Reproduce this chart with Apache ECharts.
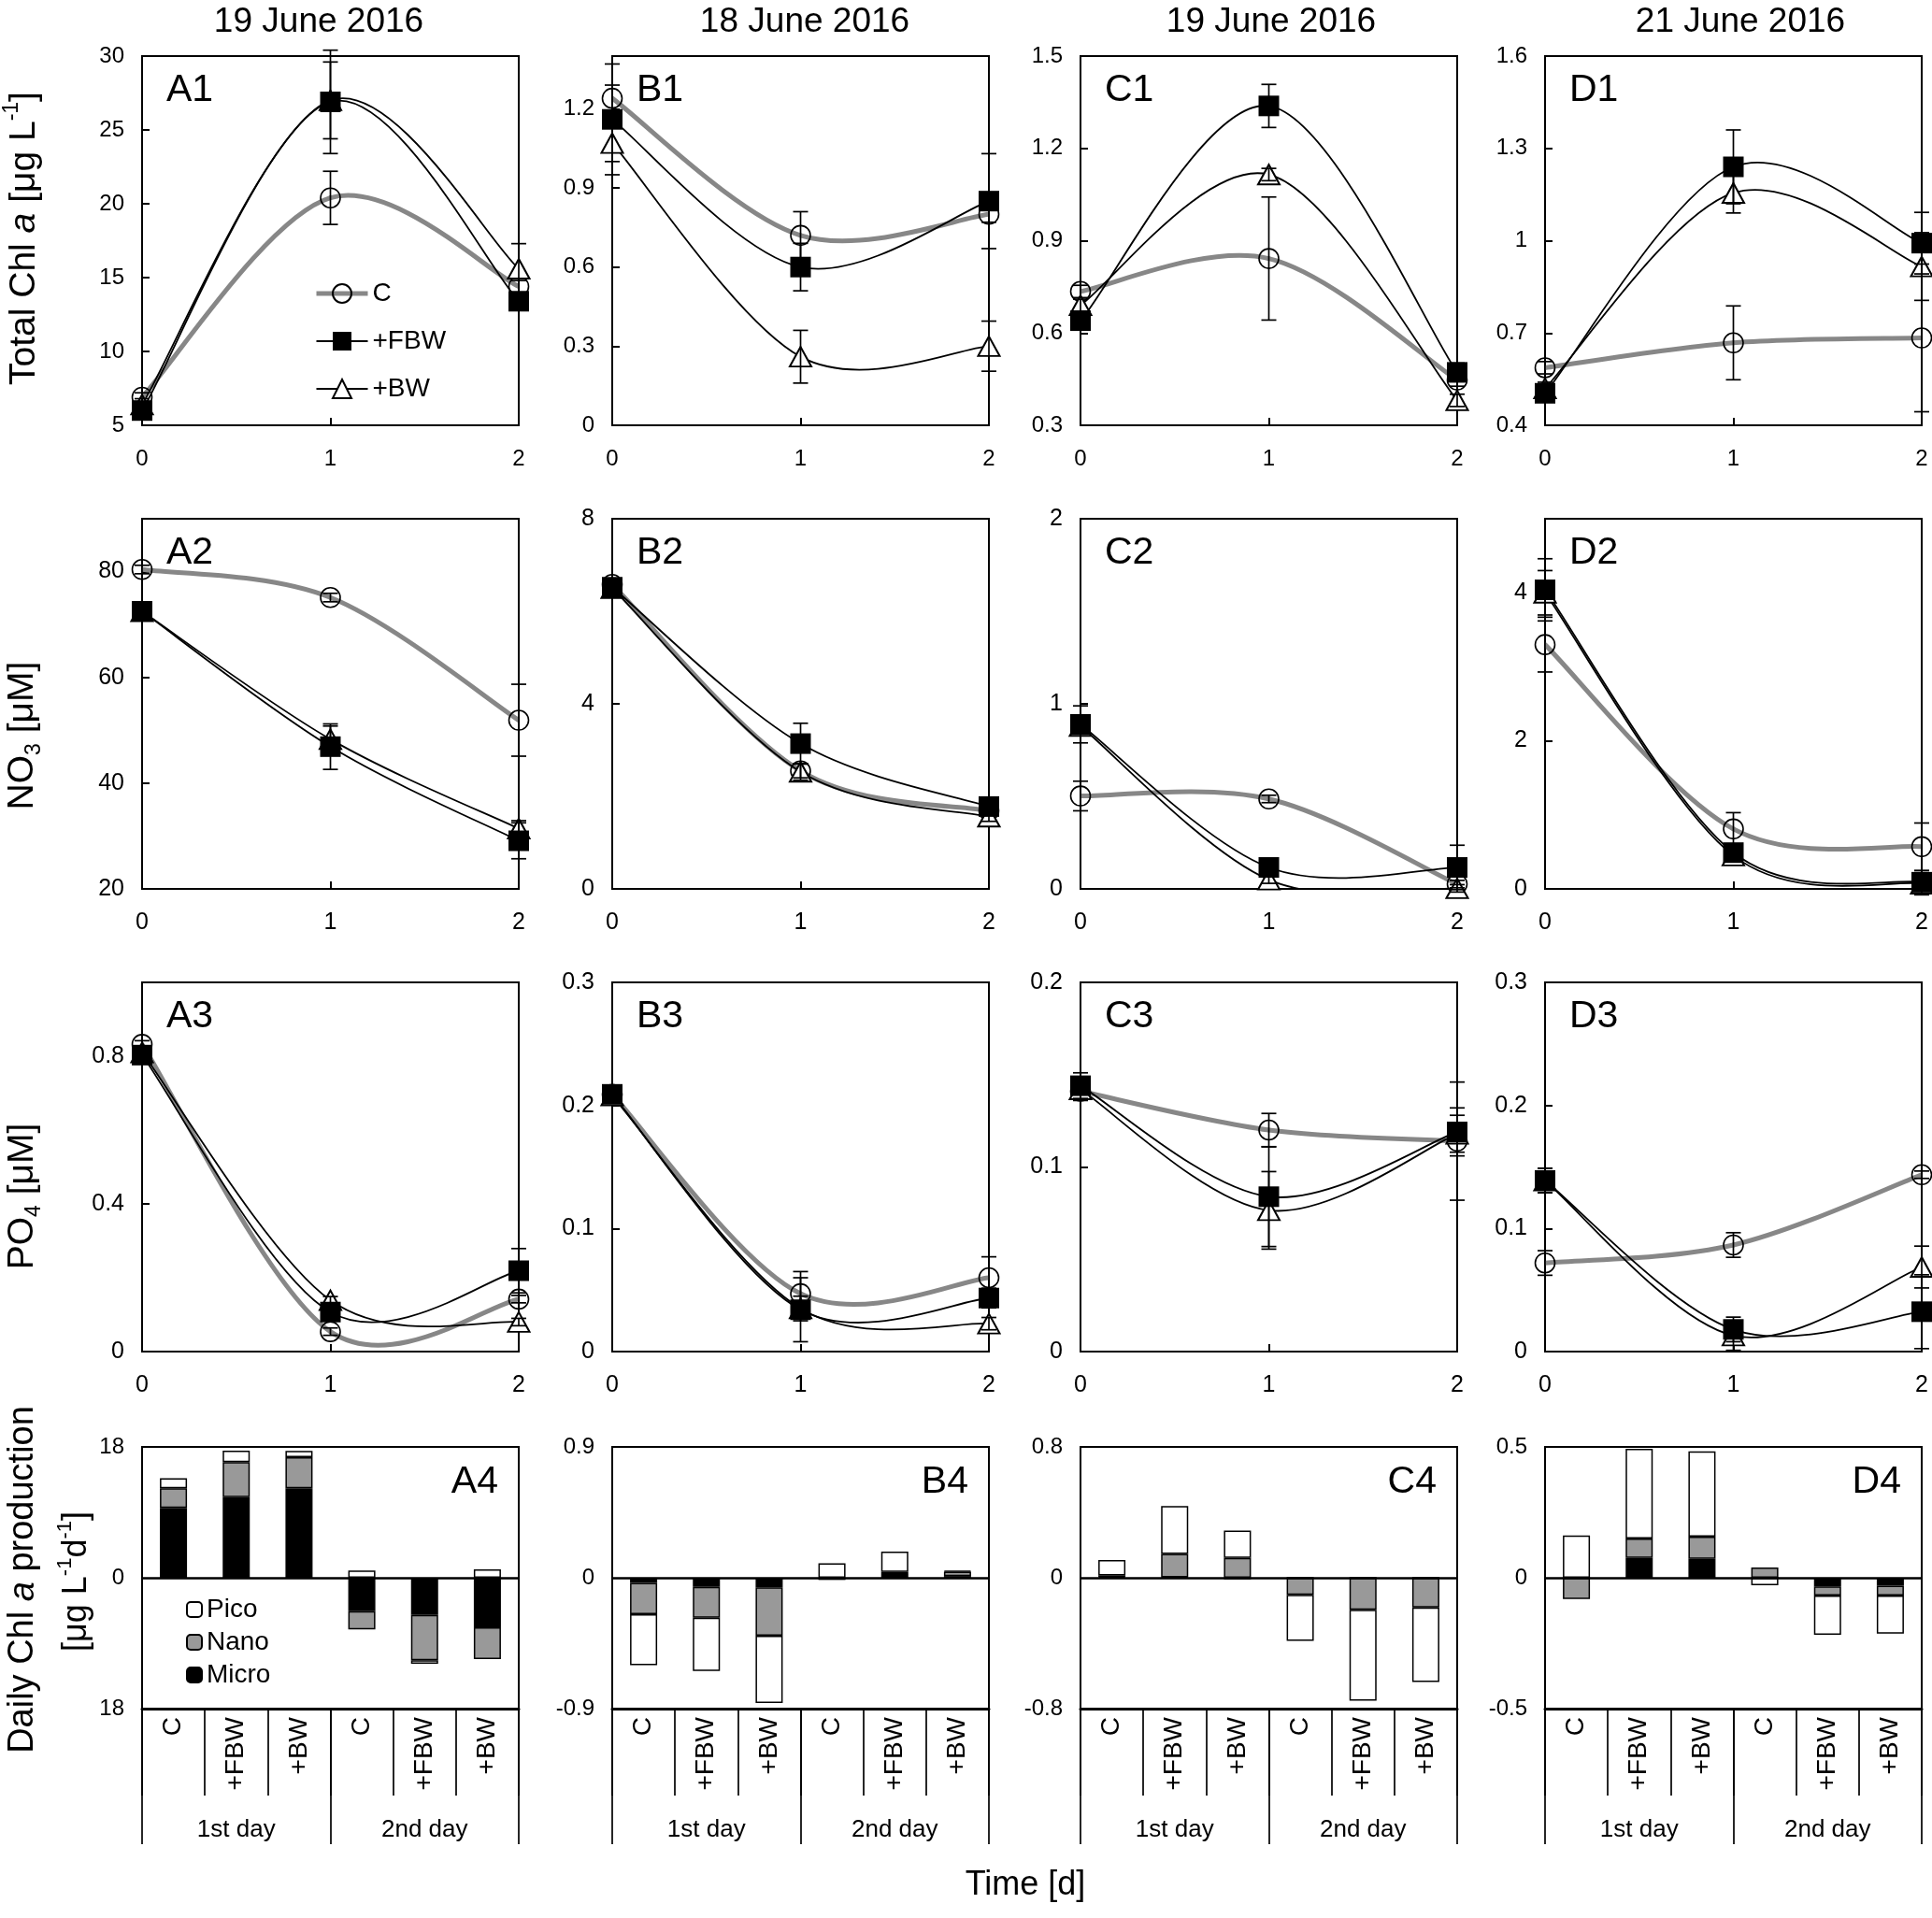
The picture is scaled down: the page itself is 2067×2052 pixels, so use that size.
<!DOCTYPE html>
<html><head><meta charset="utf-8">
<script src="https://cdn.jsdelivr.net/npm/echarts@6/dist/echarts.min.js"></script>
<style>html,body{margin:0;padding:0;background:#fff}#c{width:2067px;height:2052px}</style>
</head><body><div id="c"></div>
<script>
// ---------------- DATA ----------------
const days = [0, 1, 2];
const dates = ['19 June 2016', '18 June 2016', '19 June 2016', '21 June 2016'];
const treatments = ['C', '+FBW', '+BW'];
const barCategories = ['C', '+FBW', '+BW', 'C', '+FBW', '+BW'];
const dayGroups = ['1st day', '2nd day'];
const sizeClasses = ['Pico', 'Nano', 'Micro'];

// Row 1: Total Chl a [ug/L]
const A1_ticks = [5, 10, 15, 20, 25, 30];
const A1_C = [6.9, 20.4, 14.4],   A1_C_err = [0.3, 1.8, 0.4];
const A1_FBW = [6.0, 26.9, 13.4], A1_FBW_err = [0.4, 3.5, 0.5];
const A1_BW = [6.4, 27.0, 15.6],  A1_BW_err = [0.4, 2.6, 1.7];
const B1_ticks = [0, 0.3, 0.6, 0.9, 1.2];
const B1_C = [1.24, 0.72, 0.80],  B1_C_err = [0.05, 0.09, 0.03];
const B1_FBW = [1.16, 0.60, 0.85], B1_FBW_err = [0.21, 0.09, 0.18];
const B1_BW = [1.07, 0.26, 0.30], B1_BW_err = [0.07, 0.10, 0.095];
const C1_ticks = [0.3, 0.6, 0.9, 1.2, 1.5];
const C1_C = [0.735, 0.842, 0.447], C1_C_err = [0.02, 0.2, 0.02];
const C1_FBW = [0.64, 1.338, 0.472], C1_FBW_err = [0.03, 0.07, 0.03];
const C1_BW = [0.69, 1.115, 0.381], C1_BW_err = [0.02, 0.02, 0.02];
const D1_ticks = [0.4, 0.7, 1, 1.3, 1.6];
const D1_C = [0.587, 0.668, 0.684], D1_C_err = [0.02, 0.12, 0.24];
const D1_FBW = [0.504, 1.24, 0.992], D1_FBW_err = [0.02, 0.12, 0.1];
const D1_BW = [0.52, 1.155, 0.916], D1_BW_err = [0.02, 0.065, 0.11];

// Row 2: NO3 [uM]
const A2_ticks = [20, 40, 60, 80];
const A2_C = [80.4, 75.1, 51.9],  A2_C_err = [0.8, 0.8, 6.8];
const A2_FBW = [72.5, 46.9, 29.1], A2_FBW_err = [0.5, 4.3, 3.4];
const A2_BW = [72.5, 48.3, 31.4], A2_BW_err = [0.5, 2.5, 1.5];
const B2_ticks = [0, 4, 8];
const B2_C = [6.58, 2.55, 1.69],  B2_C_err = [0.1, 0.15, 0.1];
const B2_FBW = [6.52, 3.14, 1.78], B2_FBW_err = [0.1, 0.44, 0.15];
const B2_BW = [6.50, 2.53, 1.56], B2_BW_err = [0.1, 0.18, 0.1];
const C2_ticks = [0, 1, 2];
const C2_C = [0.502, 0.486, 0.026], C2_C_err = [0.08, 0.02, 0.02];
const C2_FBW = [0.889, 0.116, 0.116], C2_FBW_err = [0.1, 0.02, 0.12];
const C2_BW = [0.88, 0.05, 0.003], C2_BW_err = [0.03, 0.02, 0.02];
const D2_ticks = [0, 2, 4];
const D2_C = [3.30, 0.81, 0.57],  D2_C_err = [0.37, 0.22, 0.32];
const D2_FBW = [4.04, 0.49, 0.09], D2_FBW_err = [0.42, 0.05, 0.05];
const D2_BW = [4.0, 0.45, 0.07],  D2_BW_err = [0.3, 0.05, 0.15];

// Row 3: PO4 [uM]
const A3_ticks = [0, 0.4, 0.8];
const A3_C = [0.832, 0.054, 0.142], A3_C_err = [0.01, 0.01, 0.01];
const A3_FBW = [0.803, 0.107, 0.219], A3_FBW_err = [0.01, 0.01, 0.06];
const A3_BW = [0.81, 0.139, 0.080], A3_BW_err = [0.01, 0.01, 0.01];
const B3_ticks = [0, 0.1, 0.2, 0.3];
const B3_C = [0.209, 0.047, 0.060], B3_C_err = [0.003, 0.018, 0.017];
const B3_FBW = [0.209, 0.034, 0.0435], B3_FBW_err = [0.003, 0.026, 0.008];
const B3_BW = [0.208, 0.035, 0.0227], B3_BW_err = [0.003, 0.01, 0.005];
const C3_ticks = [0, 0.1, 0.2];
const C3_C = [0.141, 0.120, 0.114], C3_C_err = [0.005, 0.009, 0.032];
const C3_FBW = [0.144, 0.0839, 0.119], C3_FBW_err = [0.007, 0.027, 0.013];
const C3_BW = [0.142, 0.0765, 0.118], C3_BW_err = [0.005, 0.021, 0.01];
const D3_ticks = [0, 0.1, 0.2, 0.3];
const D3_C = [0.072, 0.0866, 0.1437], D3_C_err = [0.01, 0.01, 0.003];
const D3_FBW = [0.139, 0.018, 0.0324], D3_FBW_err = [0.01, 0.01, 0.03];
const D3_BW = [0.139, 0.013, 0.0687], D3_BW_err = [0.01, 0.012, 0.017];

// Row 4: Daily Chl a production by size class
const A4_labels = [-18, 0, 18], A4_ticks = [-18, -12, -6, 0, 6, 12, 18];
const A4_micro = [9.6, 11.1, 12.3, -4.6, -5.1, -6.8];
const A4_nano  = [2.7, 4.8, 4.3, -2.5, -6.25, -4.4];
const A4_pico  = [1.4, 1.6, 0.86, 1.0, -0.47, 1.15];
const B4_labels = [-0.9, 0, 0.9], B4_ticks = [-0.9, -0.45, 0, 0.45, 0.9];
const B4_micro = [-0.035, -0.063, -0.066, -0.005, 0.025, 0.012];
const B4_nano  = [-0.216, -0.212, -0.333, -0.01, 0.015, 0.03];
const B4_pico  = [-0.35, -0.366, -0.463, 0.099, 0.14, 0.005];
const C4_labels = [-0.8, 0, 0.8], C4_ticks = [-0.8, -0.4, 0, 0.4, 0.8];
const C4_micro = [0.005, 0.003, -0.01, 0, 0, 0];
const C4_nano  = [0.01, 0.143, 0.121, -0.104, -0.196, -0.182];
const C4_pico  = [0.094, 0.293, 0.167, -0.282, -0.556, -0.455];
const D4_labels = [-0.5, 0, 0.5], D4_ticks = [-0.5, -0.25, 0, 0.25, 0.5];
const D4_micro = [0, 0.076, 0.072, 0, -0.033, -0.03];
const D4_nano  = [-0.081, 0.074, 0.085, 0.039, -0.035, -0.038];
const D4_pico  = [0.162, 0.343, 0.326, -0.029, -0.15, -0.145];

// ---------------- LAYOUT ----------------
const FONT = '"Liberation Sans", Arial, Helvetica, sans-serif';
const colLeft = [152, 655, 1156, 1653];
const colWidth = 403;
const rowTop = [60, 555, 1051, 1548];
const rowHeight = [395, 396, 395, 280];
const titleX = [341, 861, 1360, 1862];
const GREY = '#878787';

const linePanels = [
  {r:0,c:0,label:'A1',min:5,max:30,ticks:A1_ticks,C:[A1_C,A1_C_err],F:[A1_FBW,A1_FBW_err],B:[A1_BW,A1_BW_err]},
  {r:0,c:1,label:'B1',min:0,max:1.4,ticks:B1_ticks,C:[B1_C,B1_C_err],F:[B1_FBW,B1_FBW_err],B:[B1_BW,B1_BW_err]},
  {r:0,c:2,label:'C1',min:0.3,max:1.5,ticks:C1_ticks,C:[C1_C,C1_C_err],F:[C1_FBW,C1_FBW_err],B:[C1_BW,C1_BW_err]},
  {r:0,c:3,label:'D1',min:0.4,max:1.6,ticks:D1_ticks,C:[D1_C,D1_C_err],F:[D1_FBW,D1_FBW_err],B:[D1_BW,D1_BW_err]},
  {r:1,c:0,label:'A2',min:20,max:90,ticks:A2_ticks,C:[A2_C,A2_C_err],F:[A2_FBW,A2_FBW_err],B:[A2_BW,A2_BW_err]},
  {r:1,c:1,label:'B2',min:0,max:8,ticks:B2_ticks,C:[B2_C,B2_C_err],F:[B2_FBW,B2_FBW_err],B:[B2_BW,B2_BW_err]},
  {r:1,c:2,label:'C2',min:0,max:2,ticks:C2_ticks,C:[C2_C,C2_C_err],F:[C2_FBW,C2_FBW_err],B:[C2_BW,C2_BW_err]},
  {r:1,c:3,label:'D2',min:0,max:5,ticks:D2_ticks,C:[D2_C,D2_C_err],F:[D2_FBW,D2_FBW_err],B:[D2_BW,D2_BW_err]},
  {r:2,c:0,label:'A3',min:0,max:1.0,ticks:A3_ticks,C:[A3_C,A3_C_err],F:[A3_FBW,A3_FBW_err],B:[A3_BW,A3_BW_err]},
  {r:2,c:1,label:'B3',min:0,max:0.3,ticks:B3_ticks,C:[B3_C,B3_C_err],F:[B3_FBW,B3_FBW_err],B:[B3_BW,B3_BW_err]},
  {r:2,c:2,label:'C3',min:0,max:0.2,ticks:C3_ticks,C:[C3_C,C3_C_err],F:[C3_FBW,C3_FBW_err],B:[C3_BW,C3_BW_err]},
  {r:2,c:3,label:'D3',min:0,max:0.3,ticks:D3_ticks,C:[D3_C,D3_C_err],F:[D3_FBW,D3_FBW_err],B:[D3_BW,D3_BW_err]}
];
const barPanels = [
  {c:0,label:'A4',lim:18,labels:A4_labels,ticks:A4_ticks,micro:A4_micro,nano:A4_nano,pico:A4_pico,abs:true},
  {c:1,label:'B4',lim:0.9,labels:B4_labels,ticks:B4_ticks,micro:B4_micro,nano:B4_nano,pico:B4_pico},
  {c:2,label:'C4',lim:0.8,labels:C4_labels,ticks:C4_ticks,micro:C4_micro,nano:C4_nano,pico:C4_pico},
  {c:3,label:'D4',lim:0.5,labels:D4_labels,ticks:D4_ticks,micro:D4_micro,nano:D4_nano,pico:D4_pico}
];

const grid = [], xAxis = [], yAxis = [], series = [], graphic = [];

function renderErr(params, api) {
  const x = api.value(0), lo = api.value(1), hi = api.value(2);
  const p1 = api.coord([x, hi]), p2 = api.coord([x, lo]);
  const w = 8, st = {stroke: '#000', lineWidth: 1.7, fill: 'none'};
  return {type: 'group', children: [
    {type: 'line', shape: {x1: p1[0], y1: p1[1], x2: p2[0], y2: p2[1]}, style: st},
    {type: 'line', shape: {x1: p1[0] - w, y1: p1[1], x2: p1[0] + w, y2: p1[1]}, style: st},
    {type: 'line', shape: {x1: p2[0] - w, y1: p2[1], x2: p2[0] + w, y2: p2[1]}, style: st}
  ]};
}

// smoothed (Catmull-Rom style) curve through the data points, segment by segment
function curveRenderer(color, width) {
  return function (params, api) {
    const n = params.dataInsideLength, i = params.dataIndexInside;
    if (i >= n - 1) return null;
    const P = j => {
      j = Math.max(0, Math.min(n - 1, j));
      return api.coord([api.value(0, j), api.value(1, j)]);
    };
    const p0 = P(i - 1), p1 = P(i), p2 = P(i + 1), p3 = P(i + 2);
    const k = 1 / 6;
    return {type: 'bezierCurve',
      shape: {x1: p1[0], y1: p1[1], x2: p2[0], y2: p2[1],
        cpx1: p1[0] + (p2[0] - p0[0]) * k, cpy1: p1[1] + (p2[1] - p0[1]) * k,
        cpx2: p2[0] - (p3[0] - p1[0]) * k, cpy2: p2[1] - (p3[1] - p1[1]) * k},
      style: {stroke: color, lineWidth: width, fill: 'none', lineCap: 'round'}};
  };
}

const tickLabelStyle = {color: '#000', fontSize: 24, fontFamily: FONT};

linePanels.forEach(p => {
  const gi = grid.length;
  grid.push({left: colLeft[p.c], top: rowTop[p.r], width: colWidth, height: rowHeight[p.r],
    show: true, borderColor: '#000', borderWidth: 2, backgroundColor: 'transparent'});
  const fs = p.r === 0 ? 24 : 25;
  const xi = xAxis.length;
  xAxis.push({type: 'value', gridIndex: gi, min: 0, max: 2,
    axisLine: {show: false}, splitLine: {show: false},
    axisTick: {inside: true, length: 8, customValues: days, lineStyle: {color: '#000', width: 2}},
    axisLabel: Object.assign({customValues: days, margin: 24}, tickLabelStyle, {fontSize: fs})});
  const yi = yAxis.length;
  yAxis.push({type: 'value', gridIndex: gi, min: p.min, max: p.max,
    axisLine: {show: false}, splitLine: {show: false},
    axisTick: {inside: true, length: 8, customValues: p.ticks, lineStyle: {color: '#000', width: 2}},
    axisLabel: Object.assign({customValues: p.ticks, margin: 19}, tickLabelStyle, {fontSize: fs})});
  const pts = v => days.map((d, i) => [d, v[i]]);
  const ax = {xAxisIndex: xi, yAxisIndex: yi};
  // curves
  series.push(Object.assign({type: 'custom', name: 'curve', renderItem: curveRenderer(GREY, 5),
    data: pts(p.C[0]), encode: {x: 0, y: 1}, clip: true, silent: true, z: 2}, ax));
  series.push(Object.assign({type: 'custom', name: 'curve', renderItem: curveRenderer('#000', 1.8),
    data: pts(p.B[0]), encode: {x: 0, y: 1}, clip: true, silent: true, z: 2}, ax));
  series.push(Object.assign({type: 'custom', name: 'curve', renderItem: curveRenderer('#000', 1.8),
    data: pts(p.F[0]), encode: {x: 0, y: 1}, clip: true, silent: true, z: 2}, ax));
  // markers
  series.push(Object.assign({type: 'line', name: treatments[0], data: pts(p.C[0]),
    symbol: 'circle', symbolSize: 21, lineStyle: {color: GREY, width: 5, opacity: 0},
    itemStyle: {color: 'rgba(255,255,255,0)', borderColor: '#000', borderWidth: 1.6}, z: 3}, ax));
  series.push(Object.assign({type: 'line', name: treatments[2], data: pts(p.B[0]),
    symbol: 'emptyTriangle', symbolSize: [23, 21], lineStyle: {color: '#000', width: 1.8, opacity: 0},
    itemStyle: {color: '#000', borderWidth: 1.6}, z: 3}, ax));
  series.push(Object.assign({type: 'line', name: treatments[1], data: pts(p.F[0]),
    symbol: 'rect', symbolSize: 22, lineStyle: {color: '#000', width: 1.8, opacity: 0},
    itemStyle: {color: '#000'}, z: 3}, ax));
  // error bars
  const errData = [];
  [p.C, p.B, p.F].forEach(([v, e]) => days.forEach((d, i) => errData.push([d, v[i] - e[i], v[i] + e[i]])));
  series.push(Object.assign({type: 'custom', name: 'err', renderItem: renderErr,
    data: errData, encode: {x: 0, y: [1, 2]}, z: 5, silent: true, clip: false}, ax));
  graphic.push({type: 'text', x: colLeft[p.c] + 26, y: rowTop[p.r] + 16,
    style: {text: p.label, fill: '#000', font: '41px ' + FONT, align: 'left', verticalAlign: 'top'}});
});

barPanels.forEach(p => {
  const gi = grid.length;
  grid.push({left: colLeft[p.c], top: rowTop[3], width: colWidth, height: rowHeight[3],
    show: true, borderColor: '#000', borderWidth: 2, backgroundColor: 'transparent'});
  const xi = xAxis.length;
  xAxis.push({type: 'category', gridIndex: gi, data: barCategories, position: 'bottom',
    axisLine: {onZero: false, lineStyle: {color: '#000', width: 3}},
    axisTick: {show: true, interval: 0, length: 93, lineStyle: {color: '#000', width: 1.7}},
    axisLabel: {interval: 0, rotate: 90, margin: 9, color: '#000', fontSize: 28, fontFamily: FONT},
    splitLine: {show: false}});
  xAxis.push({type: 'category', gridIndex: gi, data: dayGroups, position: 'bottom',
    axisLine: {show: false, onZero: false},
    axisTick: {show: true, interval: 0, length: 145, lineStyle: {color: '#000', width: 1.7}},
    axisLabel: {interval: 0, margin: 117, color: '#000', fontSize: 26, fontFamily: FONT},
    splitLine: {show: false}});
  const yi = yAxis.length;
  yAxis.push({type: 'value', gridIndex: gi, min: -p.lim, max: p.lim,
    axisLine: {show: false}, splitLine: {show: false},
    axisTick: {inside: true, length: 8, customValues: p.ticks, lineStyle: {color: '#000', width: 2}},
    axisLabel: Object.assign({customValues: p.labels, margin: 19,
      formatter: p.abs ? (v => String(Math.abs(v))) : (v => String(v))}, tickLabelStyle)});
  const stack = 'size' + gi;
  const common = {type: 'bar', xAxisIndex: xi, yAxisIndex: yi, stack: stack, barWidth: 29};
  series.push(Object.assign({name: sizeClasses[2], data: p.micro,
    itemStyle: {color: '#000', borderColor: '#000', borderWidth: 1.5},
    markLine: {silent: true, symbol: ['none', 'none'], label: {show: false},
      lineStyle: {color: '#000', width: 2.5, type: 'solid'}, data: [{yAxis: 0}]}}, common));
  series.push(Object.assign({name: sizeClasses[1], data: p.nano,
    itemStyle: {color: '#999999', borderColor: '#000', borderWidth: 1.5}}, common));
  series.push(Object.assign({name: sizeClasses[0], data: p.pico,
    itemStyle: {color: '#ffffff', borderColor: '#000', borderWidth: 1.5}}, common));
  graphic.push({type: 'text', x: colLeft[p.c] + colWidth - 22, y: rowTop[3] + 17,
    style: {text: p.label, fill: '#000', font: '41px ' + FONT, align: 'right', verticalAlign: 'top'}});
});

// column titles
dates.forEach((d, c) => graphic.push({type: 'text', x: titleX[c], y: 24,
  style: {text: d, fill: '#000', font: '37px ' + FONT, align: 'center', verticalAlign: 'middle'}}));

function makeRich(fs) {
  return {
    a: {fontSize: fs, fontFamily: FONT, lineHeight: fs + 10, fill: '#000'},
    i: {fontSize: fs, fontFamily: FONT, fontStyle: 'italic', lineHeight: fs + 10, fill: '#000'},
    s: {fontSize: Math.round(fs * 0.6), fontFamily: FONT, verticalAlign: 'top', fill: '#000'},
    b: {fontSize: Math.round(fs * 0.6), fontFamily: FONT, verticalAlign: 'bottom', fill: '#000'}
  };
}
function vtext(x, y, t, fs) {
  graphic.push({type: 'text', x: x, y: y, rotation: Math.PI / 2,
    style: {text: t, rich: makeRich(fs), fill: '#000', align: 'center', verticalAlign: 'middle', font: fs + 'px ' + FONT}});
}
vtext(26, 255, '{a|Total Chl }{i|a}{a| [μg L}{s|-1}{a|]}', 39);
vtext(24, 787, '{a|NO}{b|3}{a| [μM]}', 39);
vtext(24, 1280, '{a|PO}{b|4}{a| [μM]}', 39);
vtext(25, 1690, '{a|Daily Chl }{i|a}{a| production}', 38);
vtext(82, 1692, '{a|[μg L}{s|-1}{a|d}{s|-1}{a|]}', 36);
graphic.push({type: 'text', x: 1097, y: 2017,
  style: {text: 'Time [d]', fill: '#000', font: '36px ' + FONT, align: 'center', verticalAlign: 'middle'}});

const lineLegendData = [
  {name: treatments[0], lineStyle: {color: GREY, width: 5, opacity: 1}},
  {name: treatments[1], lineStyle: {color: '#000', width: 1.8, opacity: 1}},
  {name: treatments[2], lineStyle: {color: '#000', width: 1.8, opacity: 1}}
];

const chart = echarts.init(document.getElementById('c'));
chart.setOption({
  animation: false,
  backgroundColor: '#fff',
  textStyle: {fontFamily: FONT},
  grid: grid, xAxis: xAxis, yAxis: yAxis, series: series,
  legend: [
    {data: lineLegendData, orient: 'vertical', left: 336, top: 300, itemWidth: 55, itemHeight: 25, itemGap: 23,
      padding: 0, selectedMode: false, textStyle: {fontSize: 28, color: '#000', fontFamily: FONT, lineHeight: 25}},
    {data: sizeClasses, orient: 'vertical', left: 199, top: 1708, itemWidth: 16, itemHeight: 16, itemGap: 7,
      padding: 0, selectedMode: false, textStyle: {fontSize: 28, color: '#000', fontFamily: FONT, lineHeight: 28}}
  ],
  graphic: graphic
});
</script></body></html>
